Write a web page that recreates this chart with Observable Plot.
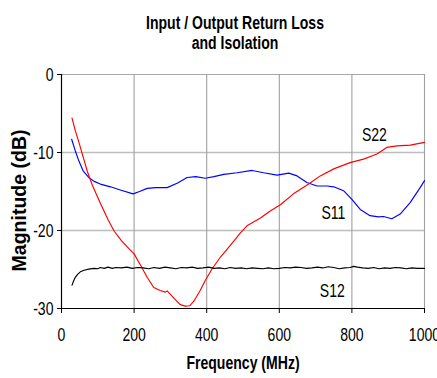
<!DOCTYPE html>
<html>
<head>
<meta charset="utf-8">
<script src="https://cdn.jsdelivr.net/npm/d3@7"></script>
<script src="https://cdn.jsdelivr.net/npm/@observablehq/plot@0.6"></script>
<style>
  body { margin: 0; background: #fff; }
  svg { display: block; }
</style>
</head>
<body>
<div id="chart"></div>
<script>
// Input return loss (S11), MHz / dB
const s11Freq = [28, 38, 48, 60, 75, 90, 107, 135, 162, 197, 215, 236, 260, 291, 320, 346, 370, 396, 420, 447, 484, 525, 557, 594, 626, 649, 676, 704, 731, 750, 777, 800, 823, 850, 873, 887, 910, 933, 961, 988, 1000];
const s11Db   = [-8.3, -9.8, -11.1, -12.4, -13.2, -13.7, -14.05, -14.4, -14.8, -15.3, -15.0, -14.6, -14.5, -14.5, -13.9, -13.2, -13.1, -13.3, -13.1, -12.8, -12.6, -12.3, -12.6, -12.9, -12.65, -13.0, -13.85, -14.3, -14.3, -14.4, -14.9, -16.0, -17.3, -18.1, -18.25, -18.2, -18.5, -17.9, -16.4, -14.5, -13.6];

// Output return loss (S22)
const s22Freq = [29, 38, 48, 58, 71, 85, 107, 128, 144, 165, 185, 200, 217, 236, 254, 272, 286, 291, 300, 314, 327, 341, 353, 364, 382, 396, 415, 438, 465, 493, 511, 548, 575, 603, 639, 681, 713, 750, 795, 832, 869, 896, 924, 961, 1000];
const s22Db   = [-5.6, -7.2, -8.7, -10.3, -12.4, -14.2, -16.5, -18.6, -20.0, -21.3, -22.3, -23.0, -24.4, -26.0, -27.3, -27.7, -27.9, -27.75, -28.2, -28.9, -29.5, -29.7, -29.65, -29.1, -27.7, -26.4, -24.9, -23.4, -21.9, -20.3, -19.4, -18.4, -17.5, -16.7, -15.3, -14.05, -13.0, -12.1, -11.3, -10.85, -10.2, -9.35, -9.15, -9.05, -8.7];

// Isolation (S12)
const s12Freq = [29, 33, 38, 45, 52, 62, 75, 90, 100, 107, 118, 128, 140, 150, 165, 180, 195, 210, 225, 240, 255, 270, 285, 300, 315, 330, 345, 360, 375, 390, 405, 420, 435, 450, 465, 480, 495, 510, 525, 540, 555, 570, 585, 600, 615, 630, 645, 660, 675, 690, 705, 720, 735, 750, 765, 780, 795, 805, 815, 830, 845, 860, 875, 890, 905, 920, 935, 950, 965, 980, 1000];
const s12Db   = [-27.0, -26.5, -26.0, -25.6, -25.3, -25.1, -24.95, -24.85, -24.9, -24.75, -24.85, -24.7, -24.85, -24.75, -24.8, -24.7, -24.85, -24.75, -24.8, -24.9, -24.75, -24.85, -24.7, -24.8, -24.9, -24.75, -24.8, -24.7, -24.85, -24.8, -24.7, -24.85, -24.8, -24.9, -24.75, -24.85, -24.8, -24.9, -24.8, -24.85, -24.9, -24.8, -24.9, -24.85, -24.75, -24.8, -24.7, -24.75, -24.85, -24.8, -24.7, -24.8, -24.65, -24.75, -24.9, -24.8, -24.75, -24.6, -24.7, -24.8, -24.85, -24.75, -24.9, -24.8, -24.85, -24.75, -24.8, -24.9, -24.8, -24.85, -24.85];

// Series names, curve colours and where each name is written
const seriesNames  = ["S11", "S22", "S12"];
const seriesColors = ["#0000ff", "#ff0000", "#000000"];
const labelFreq    = [749, 862, 746];
const labelDb      = [-17.7, -7.75, -27.7];

const xTicks = [0, 200, 400, 600, 800, 1000];
const yTicks = [0, -10, -20, -30];
const titleLines = ["Input / Output Return Loss", "and Isolation"];
const xTitle = "Frequency (MHz)";
const yTitle = "Magnitude (dB)";

const rows = (f, v, name) => f.map((x, i) => ({freq: x, db: v[i], series: name}));
const curves = [
  rows(s11Freq, s11Db, "S11"),
  rows(s22Freq, s22Db, "S22"),
  rows(s12Freq, s12Db, "S12")
];
const labels = seriesNames.map((s, i) => ({series: s, freq: labelFreq[i], db: labelDb[i]}));

const font = "'Liberation Sans', Arial, sans-serif";
const fs = 19;

const chart = Plot.plot({
  width: 437,
  height: 378,
  marginLeft: 61,
  marginRight: 13,
  marginTop: 74,
  marginBottom: 70,
  style: {fontFamily: font, background: "#fff", color: "#000"},
  x: {domain: [0, 1000], axis: null},
  y: {domain: [-30, 0], axis: null},
  color: {domain: seriesNames, range: seriesColors},
  marks: [
    // grid
    Plot.ruleY([-10, -20], {stroke: "#bdbdbd", strokeWidth: 1.6}),
    Plot.ruleY([0], {stroke: "#a8a8a8", strokeWidth: 1.2}),
    Plot.ruleX([200, 400, 600, 800, 1000], {stroke: "#a0a0a0", strokeWidth: 1.1}),
    // axes
    Plot.axisX({ticks: xTicks, tickSize: 5, tickPadding: 14, fontSize: fs, tickFormat: d => String(d), label: null}),
    Plot.axisY({ticks: yTicks, tickSize: 4, tickPadding: 4, fontSize: fs, tickFormat: d => String(d), label: null}),
    Plot.ruleX([0], {stroke: "#000", strokeWidth: 1.2}),
    Plot.ruleY([-30], {stroke: "#000", strokeWidth: 1.2}),
    // curves
    ...curves.map(data => Plot.line(data, {x: "freq", y: "db", stroke: "series", strokeWidth: 1.15})),
    // series names
    Plot.text(labels, {x: "freq", y: "db", text: "series", fontSize: fs, fill: "#000"}),
    // titles
    Plot.text([titleLines[0]], {frameAnchor: "top", lineAnchor: "middle", textAnchor: "middle", dx: -8, dy: -52, fontSize: fs, fontWeight: "bold", fill: "#000"}),
    Plot.text([titleLines[1]], {frameAnchor: "top", lineAnchor: "middle", textAnchor: "middle", dx: -8, dy: -32, fontSize: fs, fontWeight: "bold", fill: "#000"}),
    Plot.text([xTitle], {frameAnchor: "bottom", lineAnchor: "middle", textAnchor: "middle", dx: 0, dy: 54, fontSize: fs, fontWeight: "bold", fill: "#000"}),
    Plot.text([yTitle], {frameAnchor: "left", lineAnchor: "middle", textAnchor: "middle", dx: -42, dy: 9, rotate: -90, fontSize: 19.5, fontWeight: "bold", fill: "#000"})
  ]
});

document.getElementById("chart").append(chart);

// The lettering is set narrow (all but the rotated axis title):
// squeeze each label horizontally about its own anchor point.
const squeeze = 0.74;
chart.querySelectorAll("text").forEach(t => {
  if (t.textContent === yTitle) return;
  const tr = t.getAttribute("transform");
  if (tr && /^\s*translate\([^)]*\)/.test(tr)) {
    t.setAttribute("transform", tr.replace(/^\s*(translate\([^)]*\))/, `$1 scale(${squeeze},1)`));
  } else {
    const x = parseFloat(t.getAttribute("x")) || 0;
    const y = parseFloat(t.getAttribute("y")) || 0;
    t.setAttribute("transform", `${tr || ""} translate(${x},${y}) scale(${squeeze},1) translate(${-x},${-y})`);
  }
});
</script>
</body>
</html>
